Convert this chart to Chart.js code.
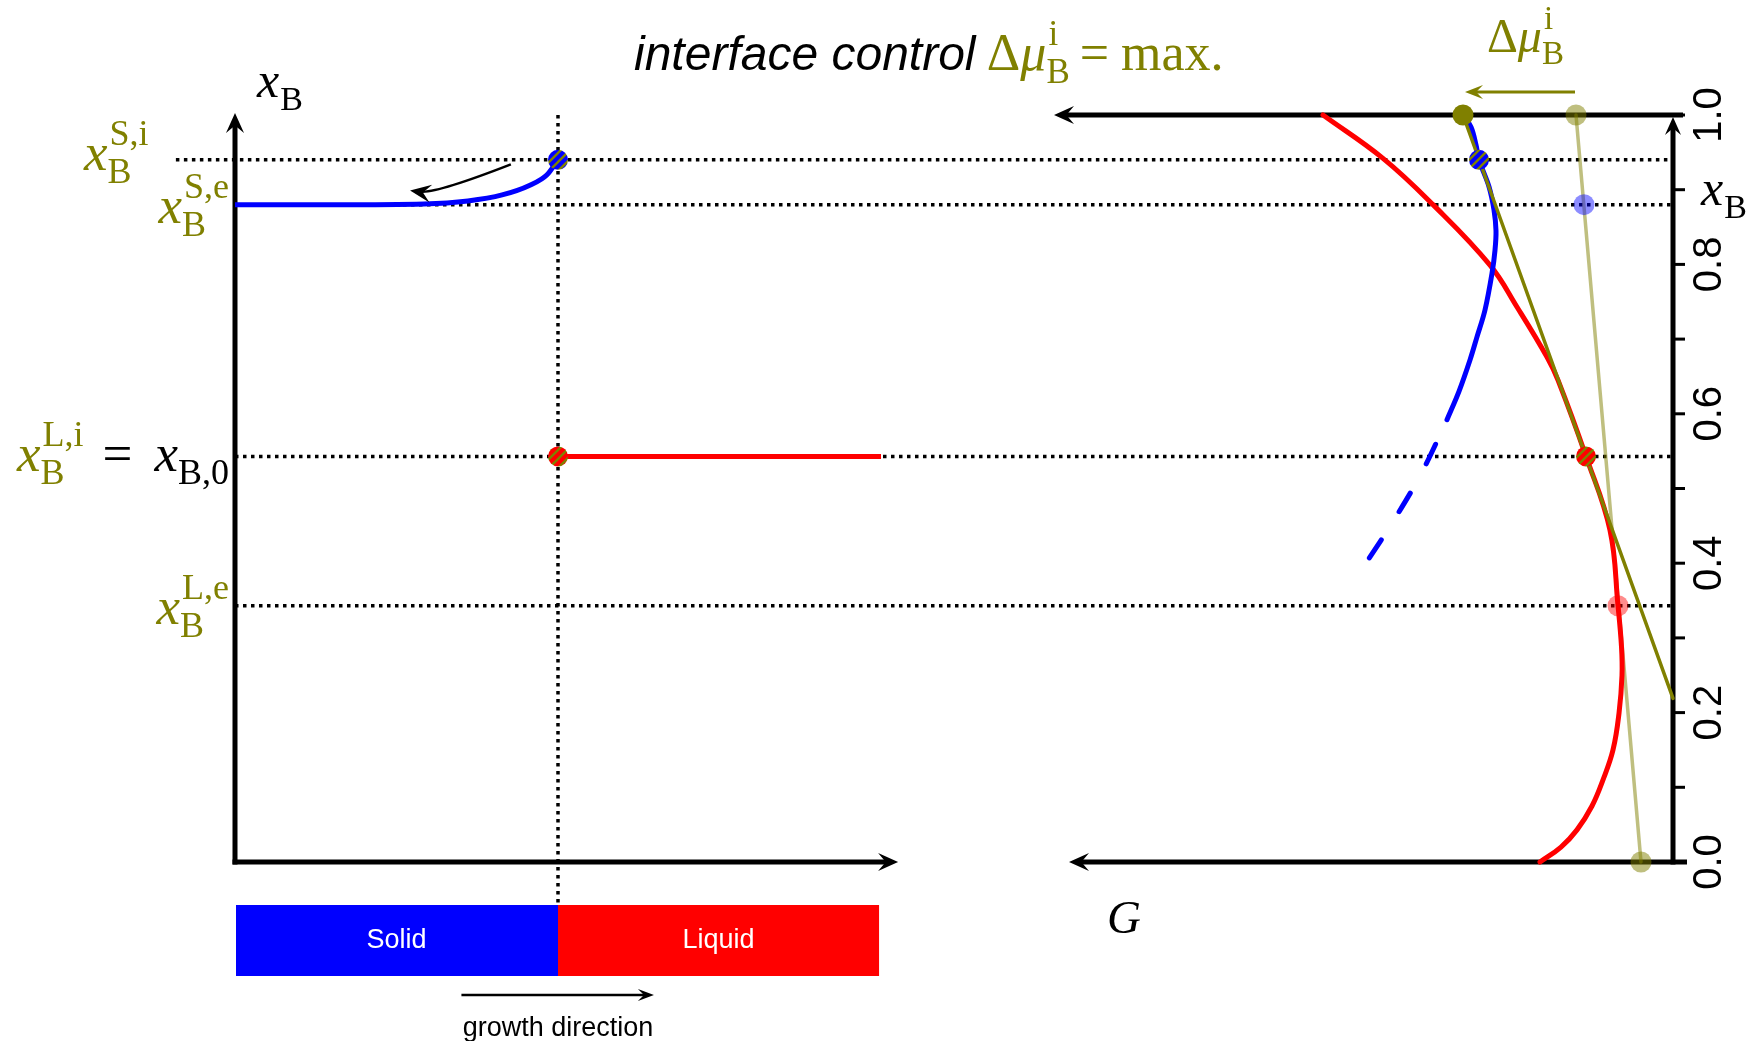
<!DOCTYPE html>
<html>
<head>
<meta charset="utf-8">
<script src="https://cdn.jsdelivr.net/npm/chart.js@4.4.1/dist/chart.umd.min.js"></script>
<style>
  html, body { margin: 0; padding: 0; background: #fff; overflow: hidden; }
  #wrap { width: 1749px; height: 1041px; }
</style>
</head>
<body>
<div id="wrap"><canvas id="c" width="1749" height="1041"></canvas></div>
<script>
// ---- Composition levels (mole fraction of B) ----
const xbSi = 0.940;   // solid at the interface
const xbSe = 0.880;   // solid, equilibrium
const xbLi = 0.543;   // liquid at the interface (= bulk x_B,0)
const xbLe = 0.343;   // liquid, equilibrium
const xbTicksMajor = [0.0, 0.2, 0.4, 0.6, 0.8, 1.0];
const xbTicksMinor = [0.1, 0.3, 0.5, 0.7, 0.9];

// ---- Left panel: concentration profile vs. position (interface at z = 1) ----
const solidZ  = [0, 0.31, 0.585, 0.721, 0.827, 0.913, 0.966, 1.0];
const solidXB = [0.880, 0.880, 0.881, 0.885, 0.893, 0.906, 0.920, 0.940];
const liquidZ  = [1.0, 2.0];
const liquidXB = [0.543, 0.543];

// ---- Right panel: Gibbs energy curves (G grows to the left) ----
const gSolidXB = [1.0, 0.984, 0.960, 0.940, 0.904, 0.873, 0.845, 0.819, 0.788, 0.739, 0.703, 0.672, 0.630, 0.592];
const gSolidG  = [2.10, 2.02, 1.97, 1.94, 1.84, 1.79, 1.77, 1.78, 1.81, 1.88, 1.96, 2.03, 2.14, 2.26];
const gSolidMetaXB = [0.592, 0.522, 0.460, 0.398];
const gSolidMetaG  = [2.26, 2.51, 2.78, 3.08];
const gLiquidXB = [1.0, 0.942, 0.880, 0.799, 0.743, 0.676, 0.645, 0.543, 0.444, 0.343, 0.288, 0.250, 0.199, 0.150, 0.110, 0.075, 0.043, 0.020, 0.0];
const gLiquidG  = [3.50, 2.90, 2.40, 1.83, 1.56, 1.26, 1.15, 0.87, 0.63, 0.55, 0.515, 0.51, 0.54, 0.60, 0.70, 0.81, 0.96, 1.12, 1.33];

// Tangent through the interface compositions and the equilibrium common tangent
const tangentIfXB = [1.0, 0.219];
const tangentIfG  = [2.10, 0.0];
const tangentEqXB = [1.0, 0.0];
const tangentEqG  = [0.97, 0.32];

// Marked points on the G curves
const ifDotsG  = [1.94, 0.87];        // interface compositions (solid, liquid)
const ifDotsXB = [xbSi, xbLi];
const eqDotsG  = [0.89, 0.55];        // equilibrium compositions (solid, liquid)
const eqDotsXB = [xbSe, xbLe];
const muIfG = [2.10], muIfXB = [1.0]; // chemical potential of B, interface tangent
const muEqG = [0.97, 0.32], muEqXB = [1.0, 0.0];

// ---- Drawing setup ----
const OLIVE = '#808000';
const OLIVE_LIGHT = 'rgba(128,128,0,0.5)';
const pts = (xs, ys) => xs.map((v, i) => ({ x: v, y: ys[i] }));

const canvas = document.getElementById('c');
const ctx = canvas.getContext('2d');

function stripes(base) {
  const s = 9, c = document.createElement('canvas');
  c.width = c.height = s;
  const g = c.getContext('2d');
  g.fillStyle = base; g.fillRect(0, 0, s, s);
  g.strokeStyle = OLIVE; g.lineWidth = 2.4;
  g.beginPath();
  g.moveTo(-1, s + 1); g.lineTo(s + 1, -1);
  g.moveTo(-1, 1); g.lineTo(1, -1);
  g.moveTo(s - 1, s + 1); g.lineTo(s + 1, s - 1);
  g.stroke();
  return ctx.createPattern(c, 'repeat');
}
const blueStripe = stripes('#0000ff');
const redStripe = stripes('#ff0000');

const SERIF = '"Liberation Serif", "DejaVu Serif", serif';
const SANS = '"Liberation Sans", Arial, sans-serif';

function arrowHead(c, x, y, ang, len, half) {
  c.save();
  c.translate(x, y); c.rotate(ang);
  c.beginPath();
  c.moveTo(0, 0);
  c.lineTo(-len, -half);
  c.lineTo(-len * 0.62, 0);
  c.lineTo(-len, half);
  c.closePath();
  c.fill();
  c.restore();
}
function arrow(c, x1, y1, x2, y2, w, len, half, color) {
  const ang = Math.atan2(y2 - y1, x2 - x1);
  c.save();
  c.strokeStyle = color; c.fillStyle = color; c.lineWidth = w; c.lineCap = 'butt';
  c.beginPath(); c.moveTo(x1, y1);
  c.lineTo(x2 - Math.cos(ang) * len * 0.6, y2 - Math.sin(ang) * len * 0.6);
  c.stroke();
  arrowHead(c, x2, y2, ang, len, half);
  c.restore();
}

// Math-style label: runs of text, scripts stacked (sup over sub)
const MAIN = 53, SCR = 36;
function mathLabel(c, x, y, parts, align, size) {
  const m = size || MAIN, s = Math.round(m * SCR / MAIN);
  const fontOf = p => (p.it ? 'italic ' : '') + (p.size || m) + 'px ' + (p.sans ? SANS : SERIF);
  const scriptFont = s + 'px ' + SERIF;
  let total = 0; const ws = [];
  for (const p of parts) {
    let w;
    if (p.sub !== undefined || p.sup !== undefined) {
      c.font = scriptFont;
      w = Math.max(p.sub ? c.measureText(p.sub).width : 0, p.sup ? c.measureText(p.sup).width + 2 : 0) + (p.pad || 0);
    } else { c.font = fontOf(p); w = c.measureText(p.t).width + (p.pad || 0); }
    ws.push(w); total += w;
  }
  let cx = align === 'right' ? x - total : (align === 'center' ? x - total / 2 : x);
  c.textBaseline = 'alphabetic'; c.textAlign = 'left';
  parts.forEach((p, i) => {
    c.fillStyle = p.color || '#000';
    if (p.sub !== undefined || p.sup !== undefined) {
      c.font = scriptFont;
      if (p.sub) c.fillText(p.sub, cx + (p.subdx || 0), y + m * 0.25);
      if (p.sup) c.fillText(p.sup, cx + (p.supdx || 2), y - m * 0.48);
    } else { c.font = fontOf(p); c.fillText(p.t, cx, y); }
    cx += ws[i];
  });
}

// Axes, guide lines, annotations
const diagram = {
  id: 'diagram',
  beforeDatasetsDraw(chart) {
    const c = chart.ctx, xl = chart.scales.xl, xr = chart.scales.xr, y = chart.scales.y;
    const zAxis = xl.getPixelForValue(0), gAxis = xr.getPixelForValue(0);
    const y0 = y.getPixelForValue(0), y1 = y.getPixelForValue(1);
    const barTop = y0 + 43;

    // dotted guide lines
    c.save();
    c.strokeStyle = '#000'; c.lineWidth = 3.5; c.setLineDash([3.5, 4.5]);
    const guide = (xa, xb, yy) => { c.beginPath(); c.moveTo(xa, yy); c.lineTo(xb, yy); c.stroke(); };
    guide(xl.getPixelForValue(-0.183), gAxis, y.getPixelForValue(xbSi));
    guide(zAxis, gAxis, y.getPixelForValue(xbSe));
    guide(zAxis, gAxis, y.getPixelForValue(xbLi));
    guide(zAxis, gAxis, y.getPixelForValue(xbLe));
    const zi = xl.getPixelForValue(1);
    c.beginPath(); c.moveTo(zi, y1); c.lineTo(zi, barTop); c.stroke();
    c.restore();

    // left panel axes
    arrow(c, zAxis, y0 + 2.5, zAxis, y1 - 2, 5, 20, 9, '#000');
    arrow(c, zAxis - 2.5, y0, xl.getPixelForValue(2.053), y0, 5, 20, 9, '#000');

    // right panel axes (G points left)
    arrow(c, gAxis + 10, y1, xr.getPixelForValue(6.19), y1, 5, 20, 9, '#000');
    arrow(c, gAxis + 14, y0, xr.getPixelForValue(6.04), y0, 5, 20, 9, '#000');
    arrow(c, gAxis, y0 + 2.5, gAxis, y1 + 2, 5, 18, 8, '#000');

    // x_B ticks on the right axis
    c.save();
    c.strokeStyle = '#000'; c.lineWidth = 3;
    [...xbTicksMajor, ...xbTicksMinor].forEach(v => {
      const ty = y.getPixelForValue(v);
      c.beginPath(); c.moveTo(gAxis + 2, ty); c.lineTo(gAxis + 12, ty); c.stroke();
    });
    c.fillStyle = '#000'; c.font = '40px ' + SANS; c.textAlign = 'center'; c.textBaseline = 'middle';
    xbTicksMajor.forEach(v => {
      c.save();
      c.translate(gAxis + 37, y.getPixelForValue(v));
      c.rotate(-Math.PI / 2);
      c.fillText(v.toFixed(1), 0, 0);
      c.restore();
    });
    c.restore();
  },
  afterDatasetsDraw(chart) {
    const c = chart.ctx, xl = chart.scales.xl, xr = chart.scales.xr, y = chart.scales.y;
    const zAxis = xl.getPixelForValue(0), gAxis = xr.getPixelForValue(0);
    const y0 = y.getPixelForValue(0), y1 = y.getPixelForValue(1);
    const zi = xl.getPixelForValue(1), zEnd = xl.getPixelForValue(1.994);
    const barTop = y0 + 43, barH = 71;

    // phase bars
    c.save();
    c.fillStyle = '#0000ff'; c.fillRect(zAxis + 1, barTop, zi - zAxis - 1, barH);
    c.fillStyle = '#ff0000'; c.fillRect(zi, barTop, zEnd - zi, barH);
    c.fillStyle = '#fff'; c.font = '27px ' + SANS; c.textAlign = 'center'; c.textBaseline = 'middle';
    c.fillText('Solid', (zAxis + zi) / 2, barTop + barH / 2);
    c.fillText('Liquid', (zi + zEnd) / 2, barTop + barH / 2);
    c.restore();

    // growth direction
    arrow(c, xl.getPixelForValue(0.701), y0 + 133, xl.getPixelForValue(1.297), y0 + 133, 2.5, 16, 6, '#000');
    c.save();
    c.fillStyle = '#000'; c.font = '27px ' + SANS; c.textAlign = 'center'; c.textBaseline = 'alphabetic';
    c.fillText('growth direction', zi, y0 + 174);
    c.restore();

    // curved arrow along the solid profile
    c.save();
    const p0x = xl.getPixelForValue(0.854), p0y = y.getPixelForValue(0.934);
    const tx = xl.getPixelForValue(0.542), ty = y.getPixelForValue(0.899);
    const cxp = xl.getPixelForValue(0.616), cyp = y.getPixelForValue(0.894);
    c.strokeStyle = '#000'; c.fillStyle = '#000'; c.lineWidth = 2.5;
    c.beginPath(); c.moveTo(p0x, p0y);
    c.quadraticCurveTo(cxp, cyp, tx + 10, ty + 1); c.stroke();
    arrowHead(c, tx, ty, Math.atan2(ty - cyp, tx - cxp), 21, 9);
    c.restore();

    // chemical potential shift arrow
    arrow(c, xr.getPixelForValue(0.98), y1 - 23, xr.getPixelForValue(2.08), y1 - 23, 3, 18, 7, OLIVE);

    // labels
    const ol = OLIVE;
    mathLabel(c, zAxis + 22, 97, [{ t: 'x', it: true }, { sub: 'B', subdx: 1 }], 'left', 50);
    mathLabel(c, 84, 170, [{ t: 'x', it: true, color: ol }, { sup: 'S,i', sub: 'B', color: ol }]);
    mathLabel(c, 229, 223, [{ t: 'x', it: true, color: ol }, { sup: 'S,e', sub: 'B', color: ol }], 'right');
    mathLabel(c, 229, 471, [
      { t: 'x', it: true, color: ol }, { sup: 'L,i', sub: 'B', color: ol, pad: 19 },
      { t: '=', pad: 22 }, { t: 'x', it: true }, { sub: 'B,0' }], 'right');
    mathLabel(c, 229, 624, [{ t: 'x', it: true, color: ol }, { sup: 'L,e', sub: 'B', color: ol }], 'right');
    mathLabel(c, gAxis + 28, 205, [{ t: 'x', it: true }, { sub: 'B', subdx: 1 }], 'left', 50);
    mathLabel(c, 1107, 933, [{ t: 'G', it: true }], 'left', 47);
    mathLabel(c, 1487, 52, [{ t: 'Δ', color: ol }, { t: 'μ', it: true, color: ol }, { sup: 'i', sub: 'B', color: ol }], 'left', 48);

    // title
    c.save();
    c.fillStyle = '#000'; c.font = 'italic 48px ' + SANS; c.textAlign = 'left'; c.textBaseline = 'alphabetic';
    const title = 'interface control ';
    c.fillText(title, 634, 70);
    const tw = c.measureText(title).width;
    c.restore();
    mathLabel(c, 634 + tw - 2, 70, [
      { t: 'Δ', color: ol }, { t: 'μ', it: true, color: ol }, { sup: 'i', sub: 'B', color: ol, pad: 10 },
      { t: '=', color: ol, pad: 12 }, { t: 'max.', color: ol }], 'left', 52);
  }
};

const lineDs = (data, xAxisID, color, width, extra) => Object.assign({
  data, xAxisID, yAxisID: 'y', showLine: true, borderColor: color, borderWidth: width,
  pointRadius: 0, tension: 0.35, fill: false, clip: false, borderCapStyle: 'round'
}, extra || {});
const dotDs = (data, xAxisID, color, r) => ({
  data, xAxisID, yAxisID: 'y', showLine: false, pointRadius: r, pointHoverRadius: r,
  pointBackgroundColor: color, pointBorderWidth: 0, clip: false
});

new Chart(ctx, {
  type: 'scatter',
  data: {
    datasets: [
      dotDs(pts([1, 1], [xbSi, xbLi]), 'xl', [blueStripe, redStripe], 10),
      dotDs(pts(ifDotsG, ifDotsXB), 'xr', [blueStripe, redStripe], 10),
      dotDs(pts(muIfG, muIfXB), 'xr', OLIVE, 10.5),
      dotDs(pts(muEqG, muEqXB), 'xr', OLIVE_LIGHT, 10.5),
      dotDs(pts(eqDotsG, eqDotsXB), 'xr', ['rgba(0,0,255,0.45)', 'rgba(255,0,0,0.45)'], 10.5),
      lineDs(pts(tangentIfG, tangentIfXB), 'xr', OLIVE, 3.5, { tension: 0 }),
      lineDs(pts(gSolidG, gSolidXB), 'xr', '#0000ff', 5),
      lineDs(pts(gSolidMetaG, gSolidMetaXB), 'xr', '#0000ff', 5, { borderDash: [22, 33], borderDashOffset: 28 }),
      lineDs(pts(gLiquidG, gLiquidXB), 'xr', '#ff0000', 5, { tension: 0.4 }),
      lineDs(pts(tangentEqG, tangentEqXB), 'xr', OLIVE_LIGHT, 3.5, { tension: 0 }),
      lineDs(pts(solidZ, solidXB), 'xl', '#0000ff', 5, { borderCapStyle: 'butt', cubicInterpolationMode: 'monotone' }),
      lineDs(pts(liquidZ, liquidXB), 'xl', '#ff0000', 5, { tension: 0, borderCapStyle: 'butt' })
    ]
  },
  options: {
    responsive: false,
    animation: false,
    devicePixelRatio: 1,
    events: [],
    layout: { padding: { left: 235, right: 76, top: 115, bottom: 179 } },
    plugins: { legend: { display: false }, tooltip: { enabled: false } },
    scales: {
      xl: { type: 'linear', display: false, min: 0, max: 4.452 },
      xr: { type: 'linear', display: false, min: 0, max: 14.38, reverse: true },
      y:  { type: 'linear', display: false, min: 0, max: 1 }
    }
  },
  plugins: [diagram]
});
</script>
</body>
</html>
